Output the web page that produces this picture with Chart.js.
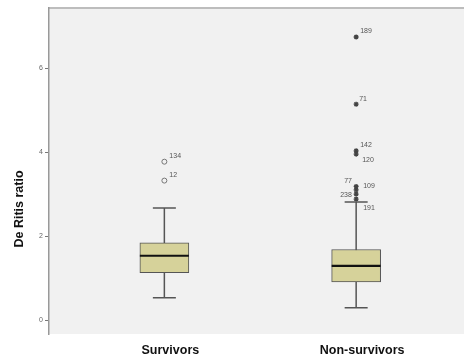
<!DOCTYPE html>
<html>
<head>
<meta charset="utf-8">
<script src="https://cdn.jsdelivr.net/npm/chart.js@4"></script>
<style>
  html, body { margin: 0; padding: 0; background: #fff; }
  #wrap { width: 464px; height: 356px; }
</style>
</head>
<body>
<div id="wrap"><canvas id="c" width="464" height="356"></canvas></div>
<script>
// Groups and their five-number summaries (De Ritis ratio)
const groups = ["Survivors", "Non-survivors"];
const groupPos = [1, 2];
const whiskerLow = [0.53, 0.29];
const q1 = [1.13, 0.91];
const median = [1.53, 1.29];
const q3 = [1.84, 1.68];
const whiskerHigh = [2.67, 2.81];

// Outlying cases with their case numbers
const survivorOutliers = [3.77, 3.32];
const survivorIds = ["134", "12"];
const nonSurvivorOutliers = [6.74, 5.14, 4.03, 3.95, 3.18, 3.10, 3.00, 2.88];
const nonSurvivorIds = ["189", "71", "142", "120", "77", "109", "238", "191"];

const yTicks = [0, 2, 4, 6];

// label placement for the case numbers: [dx, dy] from the marker
const survivorLabelShift = [[5, -6], [5, -6]];
const nonSurvivorLabelShift = [[4, -6], [3, -5], [4, -6], [6, 6], [-12, -5], [7, -4], [-16, 1], [7, 9]];

const boxPlotExtras = {
  id: 'boxPlotExtras',
  beforeDraw(chart) {
    const { ctx, chartArea: a } = chart;
    ctx.save();
    ctx.fillStyle = '#f1f1f1';
    ctx.fillRect(a.left, a.top, chart.width - a.left, a.bottom - a.top);
    ctx.strokeStyle = '#bdbdbd';
    ctx.lineWidth = 2;
    ctx.beginPath();
    ctx.moveTo(a.left, a.top);
    ctx.lineTo(chart.width, a.top);
    ctx.stroke();
    ctx.restore();
  },
  beforeDatasetsDraw(chart) {
    // whiskers and caps, drawn under the boxes
    const { ctx, scales: { x, y } } = chart;
    ctx.save();
    ctx.strokeStyle = '#555';
    ctx.lineWidth = 1.5;
    groupPos.forEach((p, i) => {
      const cx = x.getPixelForValue(p);
      const lo = y.getPixelForValue(whiskerLow[i]);
      const hi = y.getPixelForValue(whiskerHigh[i]);
      ctx.beginPath();
      ctx.moveTo(cx, lo); ctx.lineTo(cx, hi);
      ctx.moveTo(cx - 11.5, lo); ctx.lineTo(cx + 11.5, lo);
      ctx.moveTo(cx - 11.5, hi); ctx.lineTo(cx + 11.5, hi);
      ctx.stroke();
    });
    ctx.restore();
  },
  afterDatasetsDraw(chart) {
    const { ctx, scales: { x, y } } = chart;
    ctx.save();
    // medians
    ctx.strokeStyle = '#111';
    ctx.lineWidth = 2.2;
    groupPos.forEach((p, i) => {
      const cx = x.getPixelForValue(p);
      const m = y.getPixelForValue(median[i]);
      ctx.beginPath();
      ctx.moveTo(cx - 24.5, m); ctx.lineTo(cx + 24.5, m);
      ctx.stroke();
    });
    // case-number labels
    ctx.fillStyle = '#555';
    ctx.font = '7px "Liberation Sans", Arial, sans-serif';
    ctx.textBaseline = 'middle';
    ctx.textAlign = 'left';
    const label = (p, vals, ids, shifts) => {
      const cx = x.getPixelForValue(p);
      vals.forEach((v, k) => {
        const py = y.getPixelForValue(v);
        ctx.fillText(ids[k], cx + shifts[k][0], py + shifts[k][1]);
      });
    };
    label(groupPos[0], survivorOutliers, survivorIds, survivorLabelShift);
    label(groupPos[1], nonSurvivorOutliers, nonSurvivorIds, nonSurvivorLabelShift);
    // y-axis title
    ctx.fillStyle = '#111';
    ctx.font = 'bold 12.5px "Liberation Sans", Arial, sans-serif';
    ctx.textAlign = 'center';
    ctx.translate(20, 209);
    ctx.rotate(-Math.PI / 2);
    ctx.fillText('De Ritis ratio', 0, 0);
    ctx.restore();
  }
};

new Chart(document.getElementById('c'), {
  type: 'bar',
  data: {
    datasets: [
      {
        type: 'bar',
        data: groupPos.map((p, i) => ({ x: p, y: [q1[i], q3[i]] })),
        backgroundColor: '#d6d29a',
        borderColor: '#555',
        borderWidth: 1,
        borderSkipped: false,
        barThickness: 49,
        order: 2
      },
      {
        type: 'scatter',
        data: survivorOutliers.map(v => ({ x: groupPos[0], y: v })),
        pointStyle: 'circle',
        radius: 2.5,
        backgroundColor: 'rgba(0,0,0,0)',
        borderColor: '#777',
        borderWidth: 1,
        order: 1
      },
      {
        type: 'scatter',
        data: nonSurvivorOutliers.map(v => ({ x: groupPos[1], y: v })),
        pointStyle: 'star',
        radius: 2.5,
        backgroundColor: '#444',
        borderColor: '#444',
        borderWidth: 1.3,
        order: 1
      }
    ]
  },
  options: {
    responsive: false,
    animation: false,
    events: [],
    layout: { padding: { top: 8, right: 0, left: 0, bottom: 0 } },
    plugins: { legend: { display: false }, tooltip: { enabled: false } },
    scales: {
      x: {
        type: 'linear',
        offset: false,
        min: 0.3985,
        max: 2.5347,
        afterBuildTicks: s => { s.ticks = groupPos.map(v => ({ value: v })); },
        afterFit: s => { s.height = 22; },
        grid: { display: false },
        border: { display: false },
        ticks: {
          callback: (v) => groups[groupPos.indexOf(v)] ?? '',
          font: { family: '"Liberation Sans", Arial, sans-serif', size: 12.5, weight: 'bold' },
          color: '#111',
          padding: 1,
          labelOffset: 6,
          maxRotation: 0,
          autoSkip: false
        }
      },
      y: {
        type: 'linear',
        min: -0.333,
        max: 7.43,
        afterBuildTicks: s => { s.ticks = yTicks.map(v => ({ value: v })); },
        afterFit: s => { s.width = 49; },
        grid: { drawOnChartArea: false, drawTicks: true, tickLength: 4, color: '#777' },
        border: { display: true, color: '#999', width: 1.5 },
        ticks: {
          font: { family: '"Liberation Sans", Arial, sans-serif', size: 7 },
          color: '#666',
          padding: 2
        }
      }
    }
  },
  plugins: [boxPlotExtras]
});
</script>
</body>
</html>
